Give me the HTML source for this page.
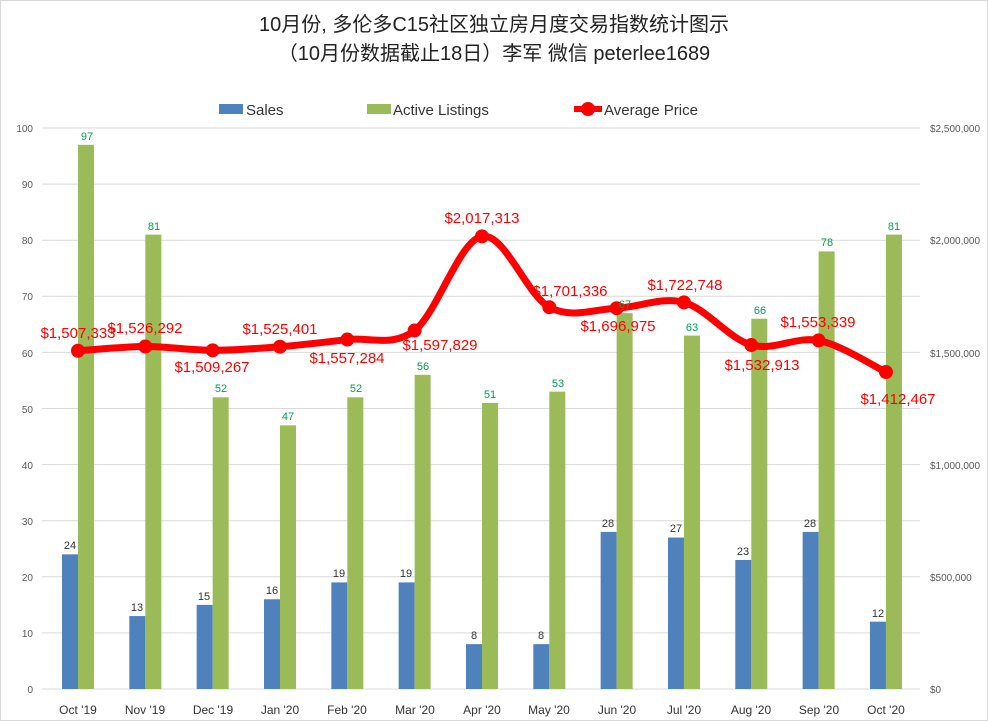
<!DOCTYPE html>
<html><head><meta charset="utf-8"><style>
body{margin:0;background:#fff}
svg{display:block;font-family:"Liberation Sans","Noto Sans CJK SC",sans-serif}
</style></head><body>
<svg width="988" height="721" viewBox="0 0 988 721" xmlns="http://www.w3.org/2000/svg">
<rect x="0.5" y="0.5" width="987" height="720" fill="#fff" stroke="#d9d9d9"/>
<text x="494" y="31" font-size="20" text-anchor="middle" fill="#222">10月份, 多伦多C15社区独立房月度交易指数统计图示</text>
<text x="494" y="60" font-size="20" text-anchor="middle" fill="#222">（10月份数据截止18日）李军 微信  peterlee1689</text>
<g font-size="15" fill="#333">
<rect x="219" y="104" width="24" height="10" fill="#4f81bd"/><text x="246" y="115">Sales</text>
<rect x="367" y="104" width="24" height="10" fill="#9bbb59"/><text x="393" y="115">Active Listings</text>
<line x1="574" y1="109" x2="602" y2="109" stroke="#f00" stroke-width="6"/><circle cx="588" cy="109" r="7" fill="#f00"/>
<text x="604" y="115">Average Price</text>
</g>
<g id="grid" stroke="#d9d9d9" stroke-width="1"></g>
<g id="bars"></g>
<path id="line" fill="none" stroke="#f00" stroke-width="7" stroke-linejoin="round"/>
<g id="marks" fill="#f00"></g>
<g font-size="11" fill="#333" text-anchor="middle">
<text x="70" y="549">24</text><text x="137" y="611">13</text><text x="204" y="600">15</text><text x="272" y="594">16</text><text x="339" y="577">19</text><text x="406" y="577">19</text><text x="474" y="639">8</text><text x="541" y="639">8</text><text x="608" y="527">28</text><text x="676" y="532">27</text><text x="743" y="555">23</text><text x="810" y="527">28</text><text x="878" y="617">12</text>
</g>
<g font-size="11" fill="#00a050" text-anchor="middle">
<text x="87" y="140">97</text><text x="154" y="230">81</text><text x="221" y="392">52</text><text x="288" y="420">47</text><text x="356" y="392">52</text><text x="423" y="370">56</text><text x="490" y="398">51</text><text x="558" y="387">53</text><text x="625" y="308">67</text><text x="692" y="331">63</text><text x="760" y="314">66</text><text x="827" y="246">78</text><text x="894" y="230">81</text>
</g>
<g font-size="15" fill="#f00" text-anchor="middle">
<text x="78" y="338">$1,507,333</text><text x="145" y="333">$1,526,292</text><text x="212" y="372">$1,509,267</text><text x="280" y="334">$1,525,401</text><text x="347" y="363">$1,557,284</text><text x="440" y="350">$1,597,829</text><text x="482" y="223">$2,017,313</text><text x="570" y="296">$1,701,336</text><text x="618" y="331">$1,696,975</text><text x="685" y="290">$1,722,748</text><text x="762" y="370">$1,532,913</text><text x="818" y="327">$1,553,339</text><text x="898" y="404">$1,412,467</text>
</g>
<g font-size="12" fill="#333" text-anchor="middle">
<text x="78" y="714">Oct '19</text><text x="145" y="714">Nov '19</text><text x="213" y="714">Dec '19</text><text x="280" y="714">Jan '20</text><text x="347" y="714">Feb '20</text><text x="415" y="714">Mar '20</text><text x="482" y="714">Apr '20</text><text x="549" y="714">May '20</text><text x="617" y="714">Jun '20</text><text x="684" y="714">Jul '20</text><text x="751" y="714">Aug '20</text><text x="819" y="714">Sep '20</text><text x="886" y="714">Oct '20</text>
</g>
<g font-size="10" fill="#595959">
<text x="33" y="132" text-anchor="end">100</text><text x="33" y="188" text-anchor="end">90</text><text x="33" y="244" text-anchor="end">80</text><text x="33" y="300" text-anchor="end">70</text><text x="33" y="357" text-anchor="end">60</text><text x="33" y="413" text-anchor="end">50</text><text x="33" y="469" text-anchor="end">40</text><text x="33" y="525" text-anchor="end">30</text><text x="33" y="581" text-anchor="end">20</text><text x="33" y="637" text-anchor="end">10</text><text x="33" y="693" text-anchor="end">0</text>
<text x="930" y="132">$2,500,000</text><text x="930" y="244">$2,000,000</text><text x="930" y="357">$1,500,000</text><text x="930" y="469">$1,000,000</text><text x="930" y="581">$500,000</text><text x="930" y="693">$0</text>
</g>
<script>
var ns="http://www.w3.org/2000/svg";
function el(p,t,a){var e=document.createElementNS(ns,t);for(var k in a)e.setAttribute(k,a[k]);document.getElementById(p).appendChild(e);return e;}
for(var i=0;i<=10;i++){var y=689-i*56.1;el("grid","line",{x1:42,x2:920,y1:y,y2:y});}
var s=[24,13,15,16,19,19,8,8,28,27,23,28,12],a=[97,81,52,47,52,56,51,53,67,63,66,78,81];
var p=[1507333,1526292,1509267,1525401,1557284,1597829,2017313,1701336,1696975,1722748,1532913,1553339,1412467];
var pts=[];
for(var i=0;i<13;i++){var x=78+67.33*i;
el("bars","rect",{x:x-16,y:689-s[i]*5.61,width:16,height:s[i]*5.61,fill:"#4f81bd"});
el("bars","rect",{x:x,y:689-a[i]*5.61,width:16,height:a[i]*5.61,fill:"#9bbb59"});
pts.push([x,689-p[i]*561/2500000]);}
var d="M"+pts[0][0]+","+pts[0][1];
for(var i=0;i<12;i++){var p0=pts[Math.max(i-1,0)],p1=pts[i],p2=pts[i+1],p3=pts[Math.min(i+2,12)];
d+=" C"+(p1[0]+(p2[0]-p0[0])/6)+","+(p1[1]+(p2[1]-p0[1])/6)+" "+(p2[0]-(p3[0]-p1[0])/6)+","+(p2[1]-(p3[1]-p1[1])/6)+" "+p2[0]+","+p2[1];}
document.getElementById("line").setAttribute("d",d);
pts.forEach(function(q){el("marks","circle",{cx:q[0],cy:q[1],r:7});});
</script>
</svg>
</body></html>
